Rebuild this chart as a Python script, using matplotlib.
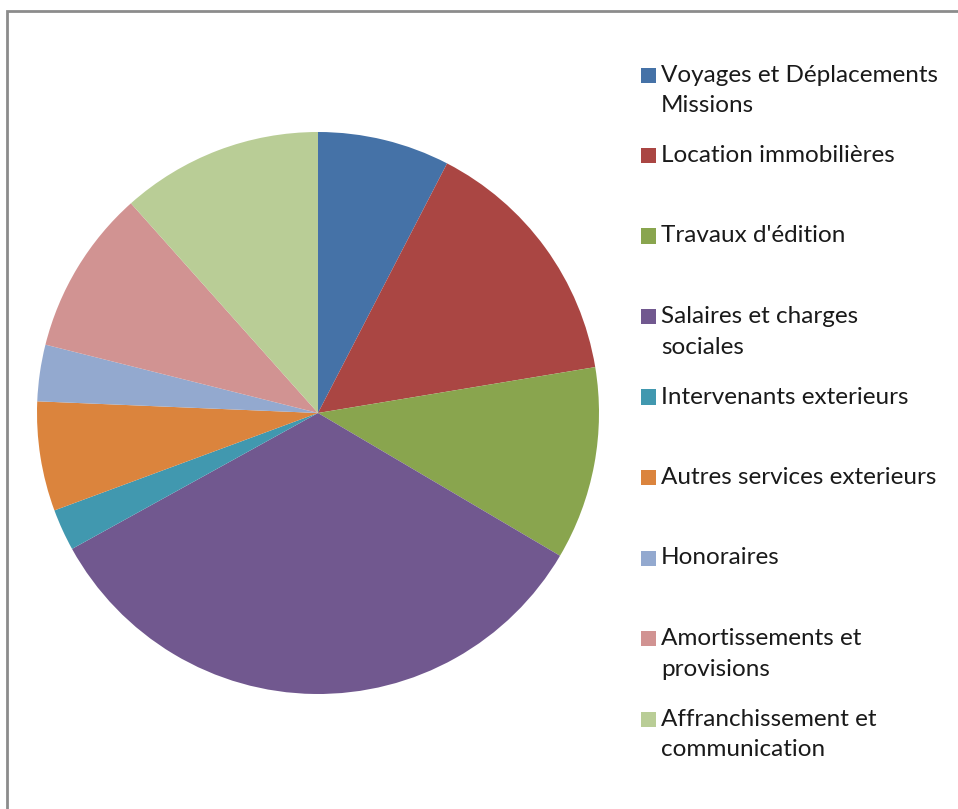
import matplotlib.pyplot as plt
from matplotlib.patches import Rectangle

# Répartition des charges (en %)
categories = [
    "Voyages et Déplacements\nMissions",
    "Location immobilières",
    "Travaux d'édition",
    "Salaires et charges\nsociales",
    "Intervenants exterieurs",
    "Autres services exterieurs",
    "Honoraires",
    "Amortissements et\nprovisions",
    "Affranchissement et\ncommunication",
]
valeurs = [7.6, 14.8, 11.1, 33.5, 2.4, 6.3, 3.25, 9.5, 11.6]
couleurs = ["#4572A7", "#AA4643", "#89A54E", "#71588F", "#4198AF",
            "#DB843D", "#93A9CF", "#D19392", "#B9CD96"]

W, H = 958, 809
fig = plt.figure(figsize=(W / 100, H / 100), dpi=100)

# cadre gris
fig.patches.append(Rectangle((7 / W, -0.1), 1.2, 1 - 11 / H + 0.1,
                             transform=fig.transFigure, fill=False,
                             edgecolor="#8c8c8c", linewidth=2))

cx, cy, r = 318, 413, 281
ax = fig.add_axes([(cx - r) / W, (H - cy - r) / H, 2 * r / W, 2 * r / H])
ax.pie(valeurs, colors=couleurs, startangle=90, counterclock=False,
       wedgeprops=dict(linewidth=0))
ax.set_xlim(-1, 1)
ax.set_ylim(-1, 1)
ax.set_aspect("equal")
ax.axis("off")

# légende
y0 = 75
pas = 80.5
interligne = 31
for i, (lab, c) in enumerate(zip(categories, couleurs)):
    y = y0 + i * pas
    fig.patches.append(Rectangle((641 / W, (H - y - 7.5) / H), 15 / W, 15 / H,
                                 transform=fig.transFigure, facecolor=c,
                                 edgecolor="none"))
    for j, ligne in enumerate(lab.split("\n")):
        fig.text(661 / W, (H - y - j * interligne) / H, ligne,
                 fontsize=17.5, family="Lato", color="#1a1a1a",
                 va="center", ha="left")

fig.savefig("out.png", dpi=100, facecolor="white")
